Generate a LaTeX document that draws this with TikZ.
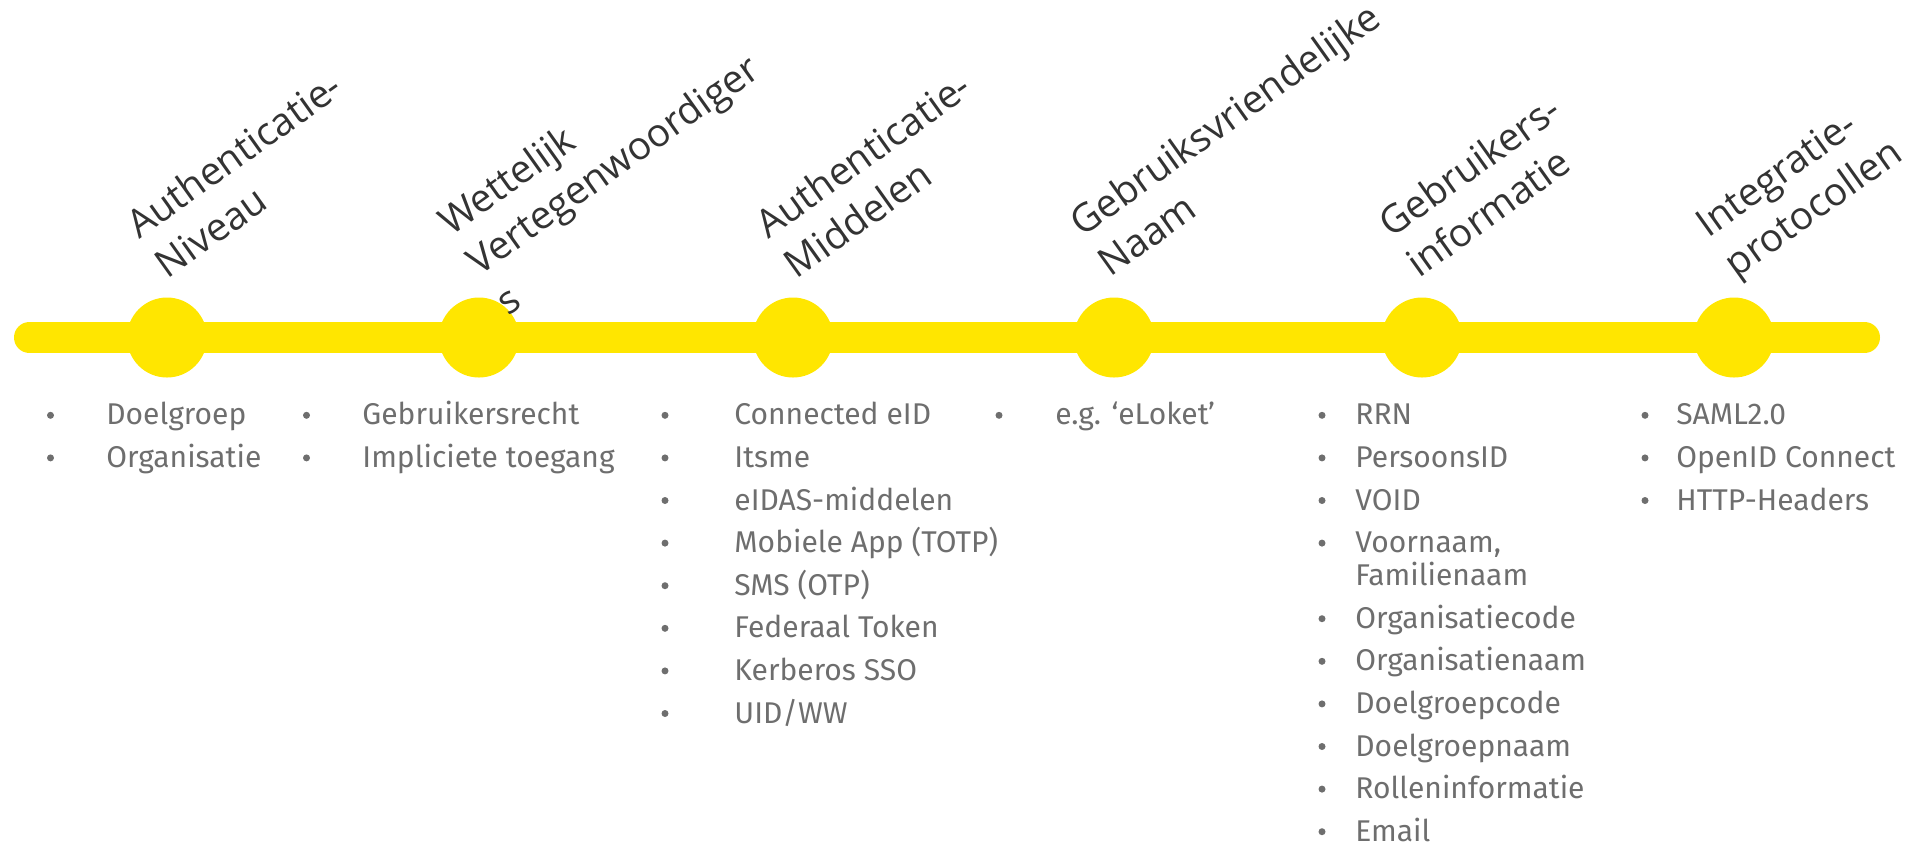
\documentclass[tikz,border=0pt]{standalone}
\usepackage{fontspec}
\setmainfont{Fira Sans}
\newfontfamily\headfont{Open Sans}
\definecolor{vlgeel}{HTML}{FFE600}
\definecolor{kop}{HTML}{333333}
\definecolor{lijst}{HTML}{6E6E6E}
\begin{document}
\begin{tikzpicture}[x=0.5pt,y=-0.5pt,
  head/.style={anchor=base west, inner sep=0pt, rotate=35.5, text=kop,
    font=\headfont\fontsize{19.4}{24}\selectfont},
  item/.style={anchor=base west, inner sep=0pt, text=lijst,
    font=\fontsize{15}{18}\selectfont},
  mijlpaal/.style={circle, fill=vlgeel, minimum size=40pt, inner sep=0pt},
  bol/.style={fill=lijst}]
\useasboundingbox (0,0) rectangle (1913,843);

% timeline bar
\coordinate (begin) at (29.5,337.5);
\coordinate (einde) at (1864.5,337.5);
\draw[vlgeel, line width=15.5pt, line cap=round] (begin) -- (einde);

% milestones
\foreach \i/\x in {1/167,2/479,3/793,4/1114,5/1422,6/1734}
  \node[mijlpaal] (m\i) at (\x,337.5) {};

% rotated headings (line pitch 49px along the normal of a 35.5 degree baseline)
\node[head] (h1a) at (139,240) {Authenticatie-};
\node[head] (h1b) at (167.5,279.9) {Niveau};
\node[head] (h2a) at (451,237) {Wettelijk};
\node[head] (h2b) at (479.5,276.9) {Vertegenwoordiger};
\node[head] (h2c) at (508,316.8) {s};
\node[head] (h3a) at (768,240) {Authenticatie-};
\node[head] (h3b) at (796.5,279.9) {Middelen};
\node[head] (h4a) at (1082,238) {Gebruiksvriendelijke};
\node[head] (h4b) at (1110.5,277.9) {Naam};
\node[head] (h5a) at (1391,239) {Gebruikers-};
\node[head] (h5b) at (1419.5,278.9) {informatie};
\node[head] (h6a) at (1708,239) {Integratie-};
\node[head] (h6b) at (1736.5,278.9) {protocollen};

% bullet lists
\foreach [count=\k from 0] \t in {Doelgroep, Organisatie} {
  \fill[bol] (50.5,{424.8+42.6*\k-9.5}) circle[radius=3.5];
  \node[item] (a\k) at (106,{424.8+42.6*\k}) {\t};
}
\foreach [count=\k from 0] \t in {Gebruikersrecht, Impliciete toegang} {
  \fill[bol] (306.5,{424.8+42.6*\k-9.5}) circle[radius=3.5];
  \node[item] (b\k) at (362,{424.8+42.6*\k}) {\t};
}
\foreach [count=\k from 0] \t in {Connected eID, Itsme, eIDAS-middelen,
    Mobiele App (TOTP), SMS (OTP), Federaal Token, Kerberos SSO, UID/WW} {
  \fill[bol] (665,{424.8+42.6*\k-9.5}) circle[radius=3.5];
  \node[item] (c\k) at (734,{424.8+42.6*\k}) {\t};
}
\fill[bol] (999,{424.8-9.5}) circle[radius=3.5];
\node[item] (d0) at (1055,424.8) {e.g. ‘eLoket’};

\foreach \y/\t [count=\k] in {424.8/RRN, 467.4/PersoonsID, 510/VOID,
    628.2/Organisatiecode, 670.8/Organisatienaam, 713.4/Doelgroepcode,
    756/Doelgroepnaam, 798.6/Rolleninformatie, 841.2/Email} {
  \fill[bol] (1322,{\y-9.5}) circle[radius=3.5];
  \node[item] (e\k) at (1355,\y) {\t};
}
\fill[bol] (1322,{552.6-9.5}) circle[radius=3.5];
\node[item] (e10) at (1355,552.6) {Voornaam,};
\node[item] (e11) at (1355,585.6) {Familienaam};

\foreach [count=\k from 0] \t in {SAML2.0, OpenID Connect, HTTP-Headers} {
  \fill[bol] (1645,{424.8+42.6*\k-9.5}) circle[radius=3.5];
  \node[item] (f\k) at (1676,{424.8+42.6*\k}) {\t};
}
\end{tikzpicture}
\end{document}
